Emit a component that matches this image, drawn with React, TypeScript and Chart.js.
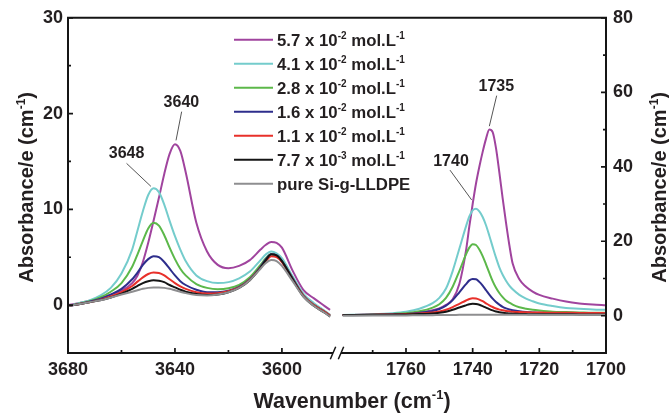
import React, { useEffect, useRef } from 'react';
import { Chart, registerables } from 'chart.js';

Chart.register(...registerables);

const FONT = "'Liberation Sans', Arial, Helvetica, sans-serif";
const TEXT = '#231f20';

const seriesLabels = [
  '5.7 x 10^-2 mol.L^-1',
  '4.1 x 10^-2 mol.L^-1',
  '2.8 x 10^-2 mol.L^-1',
  '1.6 x 10^-2 mol.L^-1',
  '1.1 x 10^-2 mol.L^-1',
  '7.7 x 10^-3 mol.L^-1',
  'pure Si-g-LLDPE',
];
const seriesColors = ['#a0449e', '#74cccc', '#5cb84a', '#2e2e8c', '#e8302a', '#151515', '#8e8e90'];

// O-H region (left panel, left axis)
const waveLeft = [3680, 3676, 3672, 3668, 3664, 3660, 3656, 3654, 3652, 3650, 3648, 3646, 3644, 3642, 3640, 3638, 3636, 3632, 3628, 3624, 3620, 3616, 3612, 3608, 3606, 3604, 3602, 3600, 3596, 3592, 3588, 3584, 3582];
const purpleLeft = [0.0, 0.2, 0.45, 0.75, 1.1, 1.5, 2.3, 3.1, 4.5, 6.5, 8.8, 11.2, 13.7, 15.8, 16.8, 16.1, 13.9, 8.6, 5.6, 4.2, 3.85, 4.1, 4.7, 5.8, 6.3, 6.6, 6.5, 6.0, 3.6, 1.6, 0.7, -0.1, -0.5];
const cyanLeft = [-0.1, 0.2, 0.5, 1.0, 1.8, 3.3, 5.8, 7.8, 9.8, 11.5, 12.2, 11.8, 10.5, 8.8, 7.2, 5.8, 4.6, 3.1, 2.5, 2.3, 2.4, 2.8, 3.5, 4.7, 5.3, 5.6, 5.4, 4.9, 3.0, 1.2, 0.2, -0.6, -1.0];
const greenLeft = [-0.1, 0.15, 0.4, 0.8, 1.4, 2.3, 4.0, 5.3, 6.7, 8.0, 8.6, 8.3, 7.3, 6.0, 4.8, 3.8, 3.1, 2.2, 1.8, 1.65, 1.75, 2.1, 2.9, 4.2, 4.9, 5.3, 5.1, 4.6, 2.8, 1.0, 0.0, -0.7, -1.1];
const blueLeft = [-0.1, 0.1, 0.35, 0.65, 1.1, 1.7, 2.7, 3.4, 4.2, 4.8, 5.1, 5.0, 4.5, 3.8, 3.1, 2.5, 2.1, 1.6, 1.35, 1.35, 1.5, 1.9, 2.7, 4.0, 4.8, 5.3, 5.2, 4.6, 2.8, 1.0, 0.0, -0.7, -1.1];
const redLeft = [-0.1, 0.1, 0.3, 0.55, 0.9, 1.35, 2.0, 2.45, 2.9, 3.25, 3.4, 3.35, 3.1, 2.7, 2.3, 1.95, 1.7, 1.35, 1.2, 1.25, 1.45, 1.85, 2.65, 3.9, 4.6, 5.1, 5.0, 4.5, 2.7, 1.0, 0.0, -0.7, -1.1];
const blackLeft = [-0.1, 0.1, 0.3, 0.5, 0.8, 1.2, 1.7, 2.0, 2.3, 2.5, 2.6, 2.55, 2.4, 2.1, 1.85, 1.6, 1.4, 1.15, 1.05, 1.1, 1.35, 1.8, 2.6, 3.9, 4.7, 5.3, 5.2, 4.6, 2.7, 0.9, -0.1, -0.8, -1.2];
const grayLeft = [-0.1, 0.1, 0.3, 0.5, 0.8, 1.1, 1.4, 1.55, 1.7, 1.8, 1.85, 1.85, 1.8, 1.7, 1.55, 1.4, 1.25, 1.05, 1.0, 1.1, 1.35, 1.8, 2.6, 3.8, 4.4, 4.7, 4.6, 4.1, 2.5, 0.9, -0.1, -0.8, -1.2];

// C=O region (right panel, right axis)
const waveRight = [1779, 1770, 1764, 1760, 1756, 1752, 1750, 1748, 1746, 1744, 1742, 1741, 1740, 1739, 1738, 1737, 1736, 1735, 1734, 1733, 1732, 1731, 1730, 1729, 1728, 1726, 1724, 1722, 1720, 1716, 1712, 1708, 1704, 1700];
const purpleRight = [0.2, 0.3, 0.4, 0.6, 0.9, 1.5, 2.0, 2.9, 4.4, 8.5, 17.5, 24, 30, 35.5, 40, 44, 47.5, 50, 49.3, 45, 38.5, 31.5, 25, 19, 14, 9.8, 7.8, 6.5, 5.6, 4.6, 3.8, 3.3, 3.0, 2.8];
const cyanRight = [0.2, 0.4, 0.7, 1.1, 1.9, 3.4, 4.8, 7.3, 12.0, 18.0, 24.0, 26.7, 28.3, 28.7, 28.0, 26.5, 24.3, 21.5, 18.5, 15.6, 13.0, 11.0, 9.4, 8.1, 7.1, 5.6, 4.6, 3.9, 3.3, 2.6, 2.1, 1.9, 1.7, 1.6];
const greenRight = [0.2, 0.3, 0.5, 0.7, 1.2, 2.2, 3.1, 4.8, 7.8, 12.0, 16.5, 18.3, 19.2, 19.0, 17.8, 16.0, 13.8, 11.5, 9.3, 7.5, 6.1, 5.0, 4.1, 3.5, 3.0, 2.3, 1.9, 1.6, 1.4, 1.1, 1.0, 0.9, 0.8, 0.8];
const blueRight = [0.2, 0.3, 0.4, 0.5, 0.8, 1.3, 1.8, 2.7, 4.2, 6.3, 8.5, 9.5, 9.9, 9.8, 9.1, 8.1, 6.9, 5.7, 4.6, 3.7, 3.0, 2.4, 2.0, 1.7, 1.5, 1.2, 1.0, 0.9, 0.8, 0.7, 0.6, 0.6, 0.6, 0.6];
const redRight = [0.2, 0.3, 0.35, 0.45, 0.6, 0.9, 1.15, 1.6, 2.3, 3.2, 4.1, 4.5, 4.7, 4.65, 4.35, 3.9, 3.35, 2.8, 2.35, 1.95, 1.65, 1.45, 1.3, 1.2, 1.1, 1.0, 0.95, 0.9, 0.85, 0.8, 0.8, 0.75, 0.75, 0.7];
const blackRight = [0.2, 0.25, 0.3, 0.35, 0.45, 0.6, 0.8, 1.1, 1.6, 2.2, 2.8, 3.1, 3.2, 3.15, 2.95, 2.6, 2.2, 1.8, 1.45, 1.15, 0.95, 0.8, 0.7, 0.6, 0.55, 0.5, 0.45, 0.4, 0.4, 0.4, 0.4, 0.35, 0.35, 0.35];
const grayRight = [0.0, 0.05, 0.1, 0.1, 0.15, 0.15, 0.2, 0.2, 0.2, 0.25, 0.25, 0.25, 0.3, 0.3, 0.3, 0.3, 0.3, 0.3, 0.3, 0.3, 0.3, 0.3, 0.3, 0.3, 0.3, 0.3, 0.3, 0.3, 0.3, 0.3, 0.3, 0.3, 0.3, 0.3];

const leftSeries = [purpleLeft, cyanLeft, greenLeft, blueLeft, redLeft, blackLeft, grayLeft];
const rightSeries = [purpleRight, cyanRight, greenRight, blueRight, redRight, blackRight, grayRight];

// axes
const xLeftTicks = [3680, 3640, 3600];
const xLeftMinor = [3660, 3620];
const xRightTicks = [1760, 1740, 1720, 1700];
const xRightMinor = [1770, 1750, 1730, 1710];
const yLeftTicks = [0, 10, 20, 30];
const yLeftMinor = [5, 15, 25];
const yRightTicks = [0, 20, 40, 60, 80];
const yRightMinor = [10, 30, 50, 70];

const xTitle = 'Wavenumber (cm^-1)';
const yTitle = 'Absorbance/e (cm^-1)';

// peak annotations (label centre and leader line, in data units)
const peakText = ['3648', '3640', '1740', '1735'];
const peakPanel = ['L', 'L', 'R', 'R'];
const peakLabelX = [3658.1, 3637.6, 1746.5, 1732.9];
const peakLabelY = [15.9, 21.25, 41.6, 61.7];
const leaderFromX = [3658.1, 3637.5, 1746.8, 1732.8];
const leaderFromY = [14.8, 20.2, 39.1, 59.1];
const leaderToX = [3649.0, 3639.6, 1740.3, 1735.0];
const leaderToY = [12.4, 17.2, 31.1, 50.9];

function parseRich(text: string) {
  const parts: { t: string; sup: boolean }[] = [];
  const re = /\^(-?\d+)/g;
  let last = 0;
  let m: RegExpExecArray | null;
  while ((m = re.exec(text)) !== null) {
    if (m.index > last) parts.push({ t: text.slice(last, m.index), sup: false });
    parts.push({ t: m[1], sup: true });
    last = re.lastIndex;
  }
  if (last < text.length) parts.push({ t: text.slice(last), sup: false });
  return parts;
}

function drawRich(ctx: CanvasRenderingContext2D, text: string, x: number, baseline: number, size: number, align: 'left' | 'center') {
  const parts = parseRich(text);
  const supSize = Math.round(size * 0.62);
  const fN = `bold ${size}px ${FONT}`;
  const fS = `bold ${supSize}px ${FONT}`;
  let w = 0;
  for (const p of parts) {
    ctx.font = p.sup ? fS : fN;
    w += ctx.measureText(p.t).width;
  }
  let cx = align === 'center' ? x - w / 2 : x;
  ctx.textAlign = 'left';
  ctx.textBaseline = 'alphabetic';
  for (const p of parts) {
    ctx.font = p.sup ? fS : fN;
    ctx.fillText(p.t, cx, p.sup ? baseline - size * 0.42 : baseline);
    cx += ctx.measureText(p.t).width;
  }
}

const decorPlugin = {
  id: 'decor',
  afterDatasetsDraw(chart: any) {
    const ctx: CanvasRenderingContext2D = chart.ctx;
    const { left, right, top, bottom } = chart.chartArea;
    const xL = chart.scales.xL;
    const xR = chart.scales.xR;
    const yL = chart.scales.yL;
    const yR = chart.scales.yR;
    ctx.save();
    ctx.strokeStyle = '#151515';
    ctx.lineWidth = 2;
    ctx.lineCap = 'butt';
    // frame: left, top, right
    ctx.beginPath();
    ctx.moveTo(left, bottom + 1);
    ctx.lineTo(left, top);
    ctx.lineTo(right, top);
    ctx.lineTo(right, bottom + 1);
    ctx.stroke();
    // broken bottom axis
    const brk = xL.right;
    ctx.beginPath();
    ctx.moveTo(left - 1, bottom);
    ctx.lineTo(brk - 4, bottom);
    ctx.moveTo(brk + 4, bottom);
    ctx.lineTo(right + 1, bottom);
    ctx.stroke();
    ctx.lineWidth = 1.5;
    ctx.beginPath();
    for (const c of [brk - 4, brk + 4]) {
      ctx.moveTo(c - 2.7, bottom + 6.3);
      ctx.lineTo(c + 2.7, bottom - 6.3);
    }
    ctx.stroke();
    // ticks (inward)
    ctx.lineWidth = 1.7;
    ctx.beginPath();
    const xt = (s: any, vals: number[], len: number) => {
      for (const v of vals) {
        const p = s.getPixelForValue(v);
        ctx.moveTo(p, bottom);
        ctx.lineTo(p, bottom - len);
      }
    };
    xt(xL, xLeftTicks, 5);
    xt(xL, xLeftMinor, 3);
    xt(xR, xRightTicks, 5);
    xt(xR, xRightMinor, 3);
    for (const v of yLeftTicks) { const p = yL.getPixelForValue(v); ctx.moveTo(left, p); ctx.lineTo(left + 5, p); }
    for (const v of yLeftMinor) { const p = yL.getPixelForValue(v); ctx.moveTo(left, p); ctx.lineTo(left + 3, p); }
    for (const v of yRightTicks) { const p = yR.getPixelForValue(v); ctx.moveTo(right, p); ctx.lineTo(right - 5, p); }
    for (const v of yRightMinor) { const p = yR.getPixelForValue(v); ctx.moveTo(right, p); ctx.lineTo(right - 3, p); }
    ctx.stroke();

    // peak annotations
    ctx.strokeStyle = '#555';
    ctx.lineWidth = 1;
    ctx.fillStyle = TEXT;
    ctx.font = `bold 16px ${FONT}`;
    ctx.textAlign = 'center';
    ctx.textBaseline = 'middle';
    for (let i = 0; i < peakText.length; i++) {
      const sx = peakPanel[i] === 'L' ? xL : xR;
      const sy = peakPanel[i] === 'L' ? yL : yR;
      ctx.beginPath();
      ctx.moveTo(sx.getPixelForValue(leaderFromX[i]), sy.getPixelForValue(leaderFromY[i]));
      ctx.lineTo(sx.getPixelForValue(leaderToX[i]), sy.getPixelForValue(leaderToY[i]));
      ctx.stroke();
      ctx.fillText(peakText[i], sx.getPixelForValue(peakLabelX[i]), sy.getPixelForValue(peakLabelY[i]) + 1);
    }

    // legend
    const lx = left + 166;
    const ly = top + 22;
    for (let i = 0; i < seriesLabels.length; i++) {
      const y = ly + i * 24;
      ctx.strokeStyle = seriesColors[i];
      ctx.lineWidth = 2;
      ctx.beginPath();
      ctx.moveTo(lx, y);
      ctx.lineTo(lx + 39, y);
      ctx.stroke();
      ctx.fillStyle = TEXT;
      drawRich(ctx, seriesLabels[i], lx + 43, y + 6, 16.8, 'left');
    }

    // axis titles
    ctx.fillStyle = TEXT;
    drawRich(ctx, xTitle, (left + right) / 2 + 15, 408, 21.5, 'center');
    ctx.save();
    ctx.translate(33, (top + bottom) / 2 + 2);
    ctx.rotate(-Math.PI / 2);
    drawRich(ctx, yTitle, 0, 0, 20, 'center');
    ctx.restore();
    ctx.save();
    ctx.translate(666, (top + bottom) / 2 + 2);
    ctx.rotate(-Math.PI / 2);
    drawRich(ctx, yTitle, 0, 0, 20, 'center');
    ctx.restore();
    ctx.restore();
  },
};

const tickFont = { family: FONT, size: 18, weight: 'bold' as const };

function buildDatasets() {
  const ds: any[] = [];
  for (let i = 0; i < seriesLabels.length; i++) {
    const common = {
      label: seriesLabels[i],
      borderColor: seriesColors[i],
      backgroundColor: seriesColors[i],
      borderWidth: 2,
      pointRadius: 0,
      fill: false,
      cubicInterpolationMode: 'monotone' as const,
      order: seriesLabels.length - 1 - i,
    };
    ds.push({ ...common, xAxisID: 'xL', yAxisID: 'yL', data: waveLeft.map((w, k) => ({ x: w, y: leftSeries[i][k] })) });
    ds.push({ ...common, xAxisID: 'xR', yAxisID: 'yR', data: waveRight.map((w, k) => ({ x: w, y: rightSeries[i][k] })) });
  }
  return ds;
}

export default function App() {
  const ref = useRef<HTMLCanvasElement>(null);
  useEffect(() => {
    const chart = new Chart(ref.current as HTMLCanvasElement, {
      type: 'line',
      data: { datasets: buildDatasets() },
      options: {
        responsive: false,
        animation: false,
        devicePixelRatio: 1,
        layout: { padding: { top: 17, left: 0, right: 0, bottom: 0 } },
        plugins: { legend: { display: false }, tooltip: { enabled: false } },
        scales: {
          xL: {
            type: 'linear', position: 'bottom', stack: 'xs', stackWeight: 1,
            min: 3579.4, max: 3680, reverse: true,
            grid: { display: false, drawTicks: false }, border: { display: false },
            ticks: { font: tickFont, color: TEXT, padding: 6, maxRotation: 0, autoSkip: false, callback: (v: any) => String(v) },
            afterBuildTicks: (s: any) => { s.ticks = xLeftTicks.map((v) => ({ value: v })); },
            afterFit: (s: any) => { s.height = 64; },
          },
          xR: {
            type: 'linear', position: 'bottom', stack: 'xs', stackWeight: 1,
            min: 1700, max: 1780.7, reverse: true,
            grid: { display: false, drawTicks: false }, border: { display: false },
            ticks: { font: tickFont, color: TEXT, padding: 6, maxRotation: 0, autoSkip: false, callback: (v: any) => String(v) },
            afterBuildTicks: (s: any) => { s.ticks = xRightTicks.map((v) => ({ value: v })); },
            afterFit: (s: any) => { s.height = 64; },
          },
          yL: {
            type: 'linear', position: 'left', min: -5, max: 30,
            grid: { display: false, drawTicks: false }, border: { display: false },
            ticks: { font: tickFont, color: TEXT, padding: 5, callback: (v: any) => String(v) },
            afterBuildTicks: (s: any) => { s.ticks = yLeftTicks.map((v) => ({ value: v })); },
            afterFit: (s: any) => { s.width = 68; },
          },
          yR: {
            type: 'linear', position: 'right', min: -10, max: 80,
            grid: { display: false, drawTicks: false }, border: { display: false },
            ticks: { font: tickFont, color: TEXT, padding: 7, callback: (v: any) => String(v) },
            afterBuildTicks: (s: any) => { s.ticks = yRightTicks.map((v) => ({ value: v })); },
            afterFit: (s: any) => { s.width = 63; },
          },
        },
      },
      plugins: [decorPlugin],
    } as any);
    return () => chart.destroy();
  }, []);
  return (
    <div style={{ position: 'absolute', left: 0, top: 0, width: 669, height: 417, background: '#fff' }}>
      <canvas ref={ref} width={669} height={417} style={{ display: 'block' }} />
    </div>
  );
}
